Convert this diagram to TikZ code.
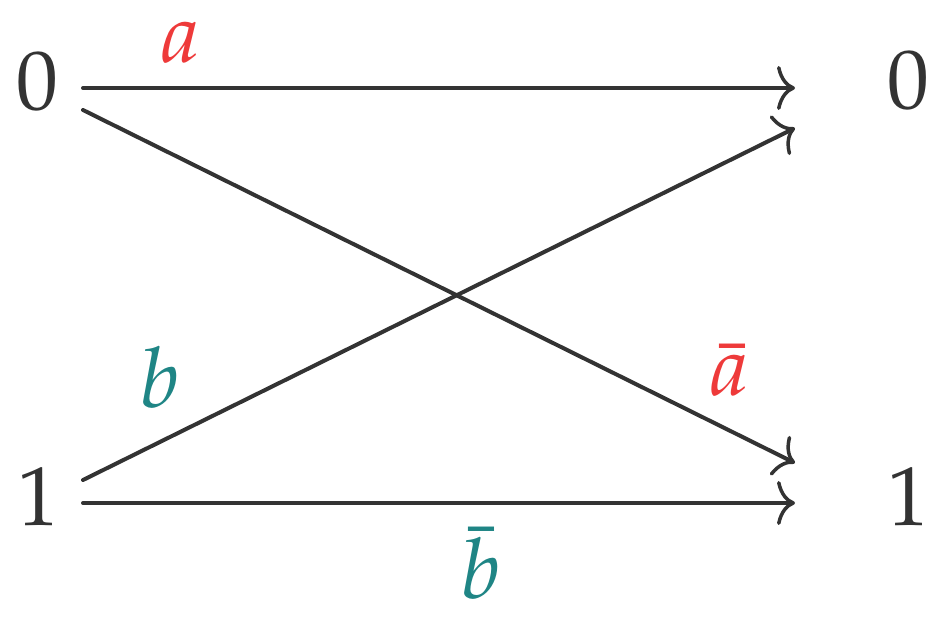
\documentclass[tikz,border=0pt]{standalone}
\usepackage{mathpazo}
\usetikzlibrary{arrows.meta}
\definecolor{ink}{HTML}{333333}
\definecolor{lred}{HTML}{EE3A3A}
\definecolor{lteal}{HTML}{1F8585}
\begin{document}
\begin{tikzpicture}[x=1bp,y=-1bp,
  lbl/.style={font=\fontsize{84}{84}\selectfont, anchor=base, inner sep=0pt, text=ink},
  edge/.style={draw=ink, line width=4bp, line cap=round,
    -{Computer Modern Rightarrow[length=18bp,width=44bp,line width=3.5bp]}}]
\useasboundingbox (0,0) rectangle (951,617);
% vertices
\node[lbl] (L0) at (37,110) {$0$};
\node[lbl] (L1) at (38,525) {$1$};
\node[lbl] (R0) at (908,109) {$0$};
\node[lbl] (R1) at (908,525) {$1$};
% connector end points
\coordinate (a0) at (83,88);
\coordinate (b0) at (83,110);
\coordinate (a1) at (83,480);
\coordinate (b1) at (83,503);
\coordinate (e0) at (795,88);
\coordinate (f0) at (795,128);
\coordinate (e1) at (795,463);
\coordinate (f1) at (795,503);
\draw[edge] (a0) -- (e0);
\draw[edge] (b0) -- (e1);
\draw[edge] (a1) -- (f0);
\draw[edge] (b1) -- (f1);
% labels
\node[lbl, text=lred] (la) at (180,63) {$a$};
\node[lbl, text=lteal] (lb) at (160,407) {$b$};
\node[lbl, text=lred] (lab) at (729,395) {$\bar a$};
\node[lbl, text=lteal] (lbb) at (481,598) {$\bar b$};
\end{tikzpicture}
\end{document}
